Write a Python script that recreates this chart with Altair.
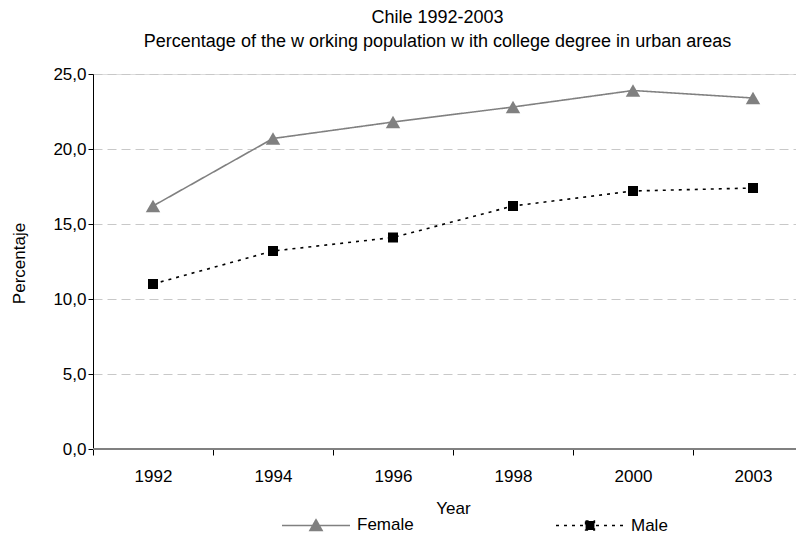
import altair as alt
import pandas as pd

years = ["1992", "1994", "1996", "1998", "2000", "2003"]
female = [16.2, 20.7, 21.8, 22.8, 23.9, 23.4]
male = [11.0, 13.2, 14.1, 16.2, 17.2, 17.4]
series = ["Female", "Male"]
colors = ["#808080", "#000000"]
dashes = [[1, 0], [3, 5]]
markers = ["triangle-up", "square"]
marker_sizes = [210, 100]
legend_symbols = [
    "M-1,0H1M-0.18,0.15L0,-0.17L0.18,0.15Z",
    "M-1,0H1M-0.13,-0.13H0.13V0.13H-0.13Z",
]

rows = []
for s, vals in zip(series, [female, male]):
    for yr, v in zip(years, vals):
        rows.append({"Year": yr, "Series": s, "Value": v})
df = pd.DataFrame(rows)

FONT = "Liberation Sans"
FS = 17
PLOT_W = 703
STEP = 120
years_js = "[" + ",".join("'%s'" % y for y in years) + "]"

x_enc = alt.X(
    "Idx:Q",
    scale=alt.Scale(domain=[-0.5, PLOT_W / STEP - 0.5], nice=False, zero=False),
    axis=alt.Axis(
        title="Year",
        values=list(range(len(years))),
        labelExpr=years_js + "[datum.value]",
        labelAngle=0,
        labelFlush=False,
        labelOverlap=False,
        domain=False,
        grid=False,
        tickOffset=-STEP / 2,
        labelOffset=STEP / 2,
        tickColor="#000000",
        tickSize=6,
        labelPadding=13,
        labelFont=FONT,
        labelFontSize=FS,
        labelColor="#000000",
        titleFont=FONT,
        titleFontSize=FS,
        titleFontWeight="normal",
        titleColor="#000000",
        titleX=STEP * 3,
        titleY=51,
        titleBaseline="top",
    ),
)

y_enc = alt.Y(
    "Value:Q",
    scale=alt.Scale(domain=[0, 25], nice=False),
    axis=alt.Axis(
        title="Percentaje",
        values=[0, 5, 10, 15, 20, 25],
        labelExpr="replace(format(datum.value, '.1f'), '.', ',')",
        grid=True,
        gridDash=[9, 5],
        gridColor="#c8c8c8",
        gridWidth=1,
        domainColor="#000000",
        tickColor="#000000",
        tickSize=5,
        labelPadding=2,
        labelFont=FONT,
        labelFontSize=FS,
        labelColor="#000000",
        titleFont=FONT,
        titleFontSize=FS,
        titleFontWeight="normal",
        titleColor="#000000",
        titleX=-74,
        titleY=189,
        titleAngle=270,
        titleBaseline="middle",
        titleAlign="center",
    ),
)

base = alt.Chart(df).transform_calculate(Idx="indexof(" + years_js + ", datum.Year)")

x_axis_line = alt.Chart(df).mark_rule(color="#808080", strokeWidth=2).encode(y=alt.datum(0))

layers = [x_axis_line]
for s, c, d in zip(series, colors, dashes):
    layers.append(
        base.mark_line(strokeWidth=1.6, color=c, strokeDash=d)
        .encode(x=x_enc, y=y_enc)
        .transform_filter(alt.datum.Series == s)
    )
for s, c, m, sz in zip(series, colors, markers, marker_sizes):
    layers.append(
        base.mark_point(filled=True, opacity=1, shape=m, size=sz, color=c)
        .encode(x=x_enc, y=y_enc)
        .transform_filter(alt.datum.Series == s)
    )

leg = alt.Legend(
    title=None,
    orient="none",
    legendX=188,
    legendY=416,
    direction="horizontal",
    columns=2,
    columnPadding=139,
    symbolSize=4624,
    symbolStrokeWidth=1.5,
    symbolOpacity=1,
    labelOffset=6,
    labelFont=FONT,
    labelFontSize=FS,
    labelColor="#000000",
    labelBaseline="middle",
    padding=0,
)

legend_layer = base.mark_point(filled=True, opacity=1, strokeWidth=1.5, size=4624).encode(
    x=x_enc,
    y=y_enc,
    color=alt.Color("Series:N", scale=alt.Scale(domain=series, range=colors), legend=leg),
    stroke=alt.Stroke("Series:N", scale=alt.Scale(domain=series, range=colors), legend=leg),
    strokeDash=alt.StrokeDash("Series:N", scale=alt.Scale(domain=series, range=dashes), legend=leg),
    shape=alt.Shape("Series:N", scale=alt.Scale(domain=series, range=legend_symbols), legend=leg),
).transform_filter("datum.Value < 0")
layers.append(legend_layer)

chart = (
    alt.layer(*layers)
    .properties(
        width=PLOT_W,
        height=375,
        autosize=alt.AutoSizeParams(type="none"),
        padding={"left": 85, "top": 66, "right": 0, "bottom": 86},
        title=alt.Title(
            text="Chile 1992-2003",
            subtitle="Percentage of the w orking population w ith college degree in urban areas",
            font=FONT,
            fontSize=18,
            fontWeight="normal",
            color="#000000",
            subtitleFont=FONT,
            subtitleFontSize=18,
            subtitleColor="#000000",
            subtitlePadding=6,
            anchor="middle",
            offset=14,
            dx=-7,
        ),
    )
    .configure_view(stroke=None)
    .configure(background="#ffffff")
)

chart.save("out.html", embed_options={"renderer": "svg", "actions": False})
